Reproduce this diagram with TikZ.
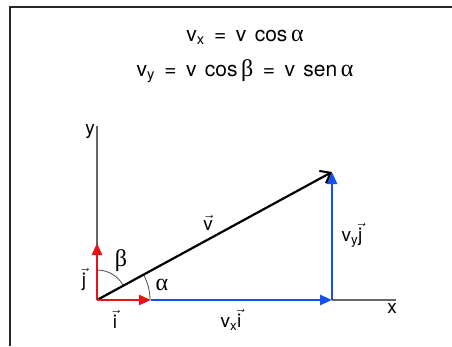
\documentclass[tikz,border=0pt]{standalone}
\usepackage{fontspec}
\setmainfont{TeX Gyre Heros}
\newfontfamily\grk{Liberation Serif}
\usetikzlibrary{arrows.meta}
\newcommand{\vv}[1]{$\vec{\hbox{#1}}$}
\newcommand{\eqs}{\hspace{0.45em}=\hspace{0.45em}}
\newcommand{\gk}[1]{{\grk\fontsize{24}{24}\selectfont #1}}
\definecolor{vblue}{RGB}{20,80,235}
\definecolor{vred}{RGB}{230,20,20}
\tikzset{
  axis/.style={draw=black!60, line width=1.3pt},
  comp/.style={draw=vblue, line width=2.6pt, -{Triangle[length=12pt,width=10pt]}},
  unit/.style={draw=vred, line width=2.6pt, -{Triangle[length=12pt,width=10pt]}},
  vec/.style={draw=black, line width=2.2pt, -{Straight Barb[length=9pt,width=14pt,line width=2pt]}},
  lbl/.style={font=\fontsize{19}{19}\selectfont, inner sep=1pt},
  eq/.style={font=\fontsize{21}{23}\selectfont, inner sep=0pt, anchor=base},
  ang/.style={draw=black!70, line width=0.8pt}
}
\begin{document}
\begin{tikzpicture}[x=1pt,y=-1pt]
\useasboundingbox (0,0) rectangle (452,346);
\fill[white] (0,0) rectangle (452,346);
\draw[line width=2pt, black!85] (10,346) -- (10,7) -- (452,7);
% equations
\node[eq] (e1) at (245,41) {v\textsubscript{x}\eqs v\hspace{0.4em}cos\,\gk{α}};
\node[eq] (e2) at (245,76) {v\textsubscript{y}\eqs v\hspace{0.4em}cos\,\gk{β}\eqs v\hspace{0.4em}sen\,\gk{α}};
% coordinates
\coordinate (O) at (97,300);
\coordinate (Y) at (97,126);
\coordinate (X) at (396,300);
\coordinate (P) at (332,300);
\coordinate (V) at (332,172);
\coordinate (I) at (151,300);
\coordinate (J) at (97,243);
% axes
\draw[axis] (O) -- (Y);
\draw[axis] (P) -- (X);
% angle arcs
\draw[ang] (97,270) arc[start angle=-90, end angle=-28.6, radius=30];
\draw[ang] (150,300) arc[start angle=0, end angle=-28.6, radius=53];
% vectors
\draw[comp] (I) -- (P);
\draw[comp] (P) -- (V);
\draw[vec] (O) -- (V);
\draw[unit] (O) -- (I);
\draw[unit] (O) -- (J);
% labels
\node[lbl] (ly) at (90,132) {y};
\node[lbl] (lx) at (392,309) {x};
\node[lbl] (lv) at (208,223) {\vv{v}};
\node[lbl] (lvy) at (352,235) {v\textsubscript{y}\vv{j}};
\node[lbl] (lvx) at (231,320) {v\textsubscript{x}\vv{i}};
\node[lbl] (li) at (115,319) {\vv{i}};
\node[lbl] (lj) at (84,279) {\vv{j}};
\node[lbl] (lb) at (121,261) {\gk{β}};
\node[lbl] (la) at (162,285) {\gk{α}};
\end{tikzpicture}
\end{document}
